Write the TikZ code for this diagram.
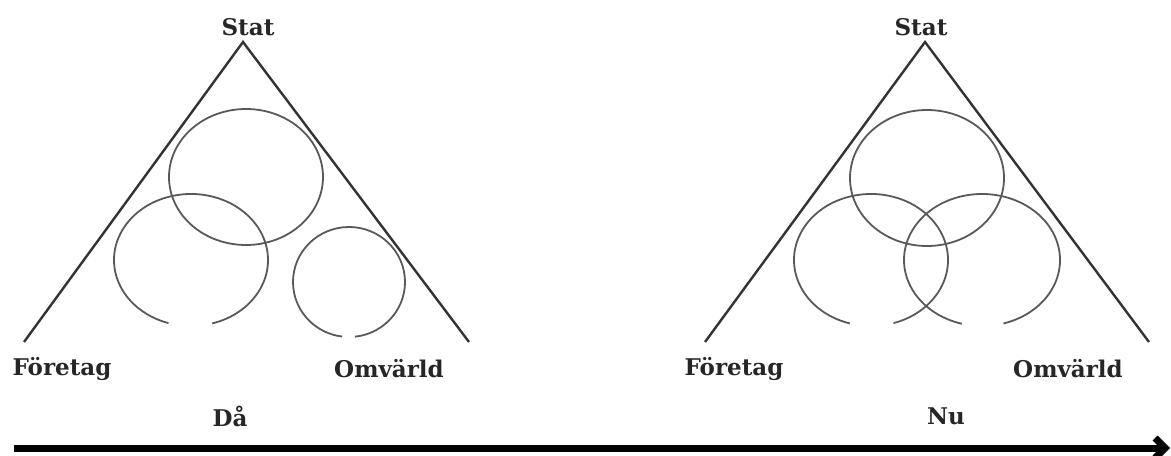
\documentclass[tikz,border=0pt]{standalone}
\usepackage{fontspec}
\setmainfont{DejaVu Serif}
\usepackage{tikz}
\usetikzlibrary{arrows.meta}

\begin{document}
\begin{tikzpicture}[x=0.5pt,y=0.5pt,>=Stealth,
  lbl/.style={font=\fontsize{11.5}{13}\selectfont\bfseries,text=black!85,inner sep=0pt},
  side/.style={draw=black!80,line width=1.2pt},
  ring/.style={draw=black!65,line width=0.9pt}]
\useasboundingbox (0,0) rectangle (1171,455);
% Då
\coordinate (topA) at (243,413);
\coordinate (leftA) at (24,113);
\coordinate (rightA) at (469,113);
\node[lbl] (statA) at (248,428) {Stat};
\node[lbl] (foretagA) at (62,86) {Företag};
\node[lbl] (omvarldA) at (389,86) {Omvärld};
\node[lbl] (da) at (230,39) {Då};
\draw[side,line join=miter] (leftA) -- (topA) -- (rightA);
\draw[ring] (246,278) ellipse [x radius=77,y radius=68];
\draw[ring] ([shift={(-74:77 and 66)}]191,195) arc[start angle=-74,end angle=253,x radius=77,y radius=66];
\draw[ring] ([shift={(-84:56 and 55)}]349,173) arc[start angle=-84,end angle=263,x radius=56,y radius=55];
% Nu
\coordinate (topB) at (925,413);
\coordinate (leftB) at (705,113);
\coordinate (rightB) at (1149,113);
\node[lbl] (statB) at (921,428) {Stat};
\node[lbl] (foretagB) at (734,86) {Företag};
\node[lbl] (omvarldB) at (1068,86) {Omvärld};
\node[lbl] (nu) at (946,39) {Nu};
\draw[side,line join=miter] (leftB) -- (topB) -- (rightB);
\draw[ring] (927,277) ellipse [x radius=77,y radius=68];
\draw[ring] ([shift={(-73:77 and 66)}]871,195) arc[start angle=-73,end angle=254,x radius=77,y radius=66];
\draw[ring] ([shift={(-74:78 and 66)}]982,195) arc[start angle=-74,end angle=255,x radius=78,y radius=66];
% tid
\coordinate (start) at (14,7);
\coordinate (stop) at (1170,7);
\draw[-{Straight Barb[length=5pt,width=10pt]},line width=3.5pt] (start) -- (stop);
\end{tikzpicture}
\end{document}
